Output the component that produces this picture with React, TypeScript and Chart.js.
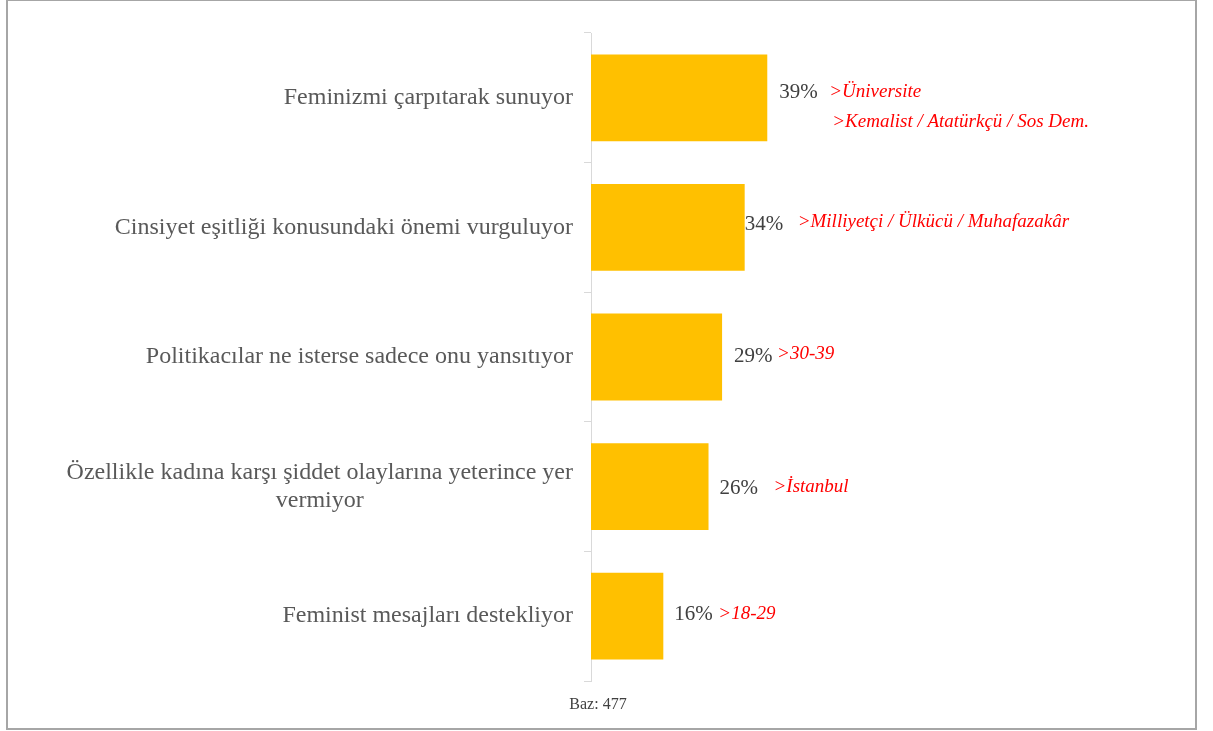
import React, { useEffect, useRef } from "react";
import { Chart, registerables } from "chart.js";

Chart.register(...registerables);

const categories: string[][] = [
  ["Feminizmi çarpıtarak sunuyor"],
  ["Cinsiyet eşitliği konusundaki önemi vurguluyor"],
  ["Politikacılar ne isterse sadece onu yansıtıyor"],
  ["Özellikle kadına karşı şiddet olaylarına yeterince yer", "vermiyor"],
  ["Feminist mesajları destekliyor"],
];

const values: number[] = [39, 34, 29, 26, 16];

const highlights: string[][] = [
  [">Üniversite", ">Kemalist / Atatürkçü / Sos Dem."],
  [">Milliyetçi / Ülkücü / Muhafazakâr"],
  [">30-39"],
  [">İstanbul"],
  [">18-29"],
];

const baseNote = "Baz: 477";

const SERIF = '"Liberation Serif", "Times New Roman", serif';

// styling / placement tweaks (not data)
const valueLabelGap = [12, 0, 12, 11, 11];
const valueLabelDy = [-5, -3, -1, 2, -2];
const highlightGap = [
  [62, 65],
  [53],
  [55],
  [65],
  [55],
];
const highlightDy = [
  [-6, 24],
  [-5],
  [-3],
  [0],
  [-2],
];

const labelPlugin = {
  id: "customLabels",
  afterDatasetsDraw(chart: any) {
    const { ctx, chartArea } = chart;
    const xs = chart.scales.x;
    const ys = chart.scales.y;
    ctx.save();
    ctx.textBaseline = "middle";
    categories.forEach((lines, i) => {
      const yc = ys.getPixelForValue(i);
      // category label
      ctx.font = `24px ${SERIF}`;
      ctx.fillStyle = "#595959";
      const right = chartArea.left - 18;
      const lh = 28;
      if (lines.length === 1) {
        ctx.textAlign = "right";
        ctx.fillText(lines[0], right, yc);
      } else {
        const maxW = Math.max(...lines.map((l) => ctx.measureText(l).width));
        ctx.textAlign = "center";
        const cx = right - maxW / 2;
        const top = yc - ((lines.length - 1) * lh) / 2;
        lines.forEach((l, k) => ctx.fillText(l, cx, top + k * lh));
      }
      // value label
      const xe = xs.getPixelForValue(values[i]);
      ctx.font = `21px ${SERIF}`;
      ctx.fillStyle = "#404040";
      ctx.textAlign = "left";
      ctx.fillText(`${values[i]}%`, xe + valueLabelGap[i], yc + valueLabelDy[i]);
      // highlight annotations
      ctx.font = `italic 19px ${SERIF}`;
      ctx.fillStyle = "#FF0000";
      highlights[i].forEach((h, k) => {
        ctx.fillText(h, xe + highlightGap[i][k], yc + highlightDy[i][k]);
      });
    });
    // base note
    ctx.font = `16px ${SERIF}`;
    ctx.fillStyle = "#404040";
    ctx.textAlign = "center";
    ctx.fillText(baseNote, chartArea.left + 7, chartArea.bottom + 24);
    ctx.restore();
  },
};

export default function App() {
  const canvasRef = useRef<HTMLCanvasElement | null>(null);

  useEffect(() => {
    if (!canvasRef.current) return;
    const chart = new Chart(canvasRef.current, {
      type: "bar",
      data: {
        labels: categories.map((c) => c.join(" ")),
        datasets: [
          {
            data: values,
            backgroundColor: "#FFC000",
            borderWidth: 0,
            barPercentage: 0.67,
            categoryPercentage: 1,
          },
        ],
      },
      options: {
        indexAxis: "y",
        animation: false,
        responsive: true,
        maintainAspectRatio: false,
        layout: { padding: { left: 0, right: 170, top: 33, bottom: 50 } },
        plugins: {
          legend: { display: false },
          tooltip: { enabled: false },
        },
        scales: {
          x: { display: false, min: 0, max: 100 },
          y: {
            afterFit: (scale: any) => {
              scale.width = 591;
            },
            ticks: { display: false },
            grid: {
              drawOnChartArea: false,
              drawTicks: true,
              tickLength: 7,
              color: "#d9d9d9",
              offset: true,
            },
            border: { color: "#d9d9d9", width: 1 },
          },
        },
      },
      plugins: [labelPlugin],
    });
    return () => chart.destroy();
  }, []);

  return (
    <div
      style={{
        position: "fixed",
        left: 0,
        top: 0,
        width: 1213,
        height: 731,
        background: "#fff",
      }}
    >
      <canvas ref={canvasRef} />
      <div
        style={{
          position: "absolute",
          left: 6,
          top: -1,
          width: 1191,
          height: 731,
          border: "2px solid #a6a6a6",
          boxSizing: "border-box",
          pointerEvents: "none",
        }}
      />
    </div>
  );
}
